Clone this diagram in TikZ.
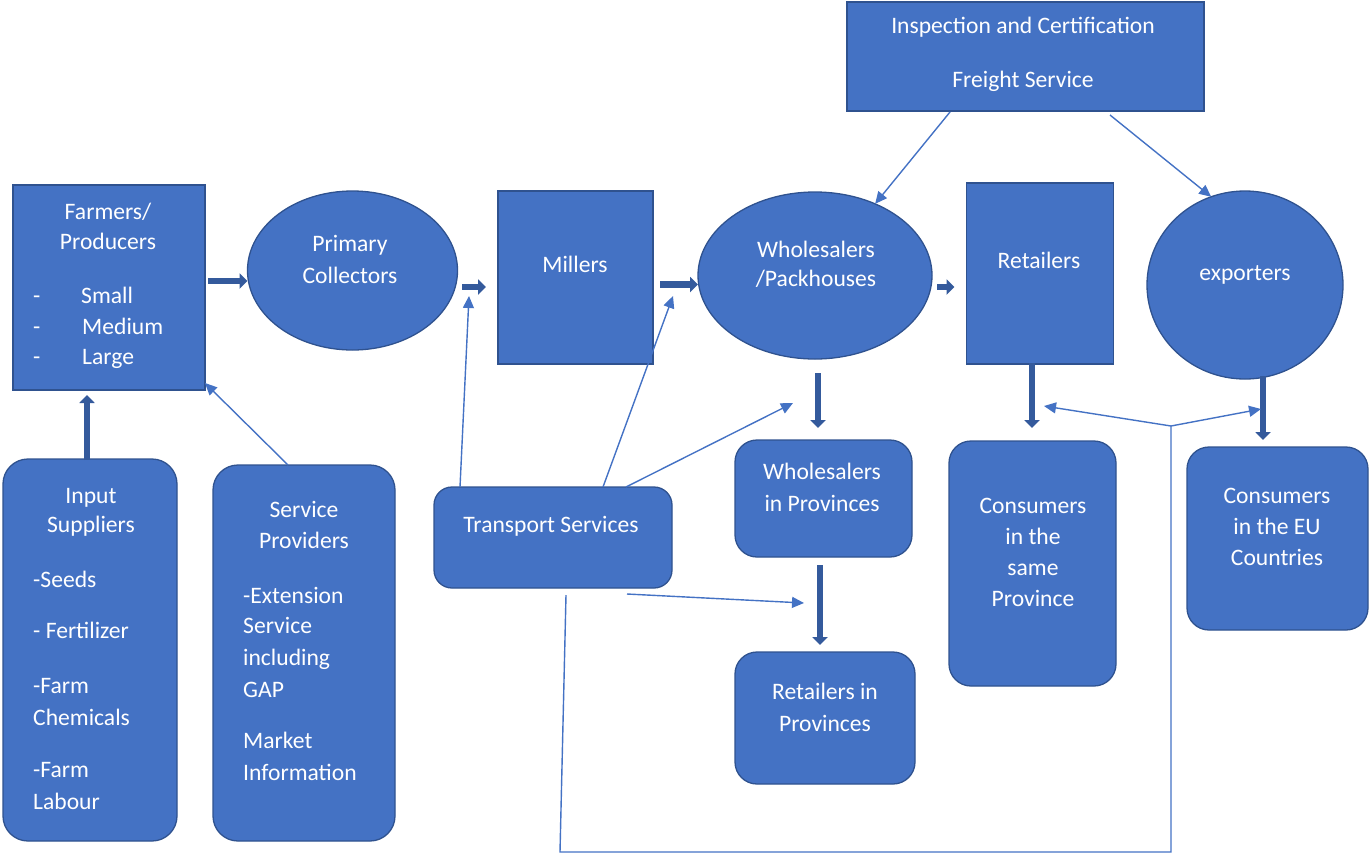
\documentclass[tikz,border=0pt]{standalone}
\usepackage{fontspec}
\setmainfont{Carlito}
\usetikzlibrary{shapes.geometric,arrows.meta,calc}
\definecolor{shapefill}{HTML}{4472C4}
\definecolor{shapeedge}{HTML}{2F528F}
\definecolor{flowc}{HTML}{345A9C}
\definecolor{linkc}{HTML}{4472C4}
\newcommand{\lbfont}{\fontsize{23.6}{30}\selectfont}

\begin{document}
\begin{tikzpicture}[x=1pt,y=-1pt,
  box/.style={draw=shapeedge, fill=shapefill, line width=1.3pt, inner sep=0pt, outer sep=0pt},
  rbox/.style={box, rounded corners=22pt},
  oval/.style={box, ellipse},
  lbl/.style={text=white, font=\lbfont, inner sep=0pt, anchor=base},
  lbll/.style={lbl, anchor=base west},
  flow/.style={line width=6.5pt, draw=flowc, -{Triangle[length=8pt,width=15pt]}},
  link/.style={line width=1.4pt, draw=linkc, -{Triangle[length=12pt,width=11pt]}},
  wire/.style={line width=1.4pt, draw=linkc}]
\useasboundingbox (0,0) rectangle (1370,855);

% ---- main chain ----
\node[box, minimum width=192pt, minimum height=205pt] (farmers) at (109,287.5) {};
\node[oval, minimum width=210pt, minimum height=159pt] (collect) at (352.5,270.5) {};
\node[box, minimum width=155pt, minimum height=173pt] (millers) at (575.5,277.5) {};
\node[oval, minimum width=234pt, minimum height=167pt] (whole) at (815,275.5) {};
\node[box, minimum width=147pt, minimum height=181pt] (retail) at (1040,273.5) {};
\node[oval, minimum width=196pt, minimum height=188pt] (export) at (1245,285) {};
\node[box, minimum width=357pt, minimum height=109pt] (inspect) at (1025.5,56.5) {};

% ---- supporting and downstream boxes ----
\node[rbox, rounded corners=25pt, minimum width=174pt, minimum height=382pt] (input) at (90,650) {};
\node[rbox, rounded corners=25pt, minimum width=182pt, minimum height=376pt] (service) at (304,653) {};
\node[rbox, rounded corners=18pt, minimum width=238pt, minimum height=101pt] (transport) at (553,537.5) {};
\node[rbox, minimum width=177pt, minimum height=117pt] (wprov) at (823.5,498.5) {};
\node[rbox, minimum width=180pt, minimum height=132pt] (rprov) at (825,718) {};
\node[rbox, minimum width=167pt, minimum height=245pt] (consame) at (1032.5,563.5) {};
\node[rbox, minimum width=181pt, minimum height=183pt] (coneu) at (1277.5,538.5) {};

% ---- labels ----
\node[lbl] (tFarm1) at (108,219) {Farmers/};
\node[lbl] (tFarm2) at (108,249) {Producers};
\node[lbll] (tD1) at (33,303) {-};
\node[lbll] (tD2) at (33,334) {-};
\node[lbll] (tD3) at (33,364) {-};
\node[lbll] (tSmall) at (81,303) {Small};
\node[lbll] (tMedium) at (82,334) {Medium};
\node[lbll] (tLarge) at (82,364) {Large};

\node[lbl] (tPrim1) at (350,251) {Primary};
\node[lbl] (tPrim2) at (350,283) {Collectors};
\node[lbl] (tMill) at (575,272) {Millers};
\node[lbl] (tWh1) at (816,257) {Wholesalers};
\node[lbl] (tWh2) at (816,286) {/Packhouses};
\node[lbl] (tRet) at (1039,268) {Retailers};
\node[lbl] (tExp) at (1245,280) {exporters};
\node[lbl] (tIns1) at (1023,33) {Inspection and Certification};
\node[lbl] (tIns2) at (1023,87) {Freight Service};

\node[lbl] (tIn1) at (91,503) {Input};
\node[lbl] (tIn2) at (91,532) {Suppliers};
\node[lbll] (tIn3) at (33,587) {-Seeds};
\node[lbll] (tIn4) at (33,638) {- Fertilizer};
\node[lbll] (tIn5) at (33,693) {-Farm};
\node[lbll] (tIn6) at (33,725) {Chemicals};
\node[lbll] (tIn7) at (33,777) {-Farm};
\node[lbll] (tIn8) at (33,809) {Labour};

\node[lbl] (tSv1) at (304,517) {Service};
\node[lbl] (tSv2) at (304,548) {Providers};
\node[lbll] (tSv3) at (243,603) {-Extension};
\node[lbll] (tSv4) at (243,633) {Service};
\node[lbll] (tSv5) at (243,665) {including};
\node[lbll] (tSv6) at (243,697) {GAP};
\node[lbll] (tSv7) at (243,748) {Market};
\node[lbll] (tSv8) at (243,780) {Information};

\node[lbl] (tTr) at (551,532) {Transport Services};
\node[lbl] (tWp1) at (822,479) {Wholesalers};
\node[lbl] (tWp2) at (822,511) {in Provinces};
\node[lbl] (tRp1) at (825,699) {Retailers in};
\node[lbl] (tRp2) at (825,731) {Provinces};
\node[lbl] (tCs1) at (1033,513) {Consumers};
\node[lbl] (tCs2) at (1033,544) {in the};
\node[lbl] (tCs3) at (1033,575) {same};
\node[lbl] (tCs4) at (1033,606) {Province};
\node[lbl] (tCe1) at (1277,503) {Consumers};
\node[lbl] (tCe2) at (1277,534) {in the EU};
\node[lbl] (tCe3) at (1277,565) {Countries};

% ---- product flow (thick arrows) ----
\draw[flow] ($(farmers.east)+(3,-6.5)$) -- ($(collect.west)+(0,10.5)$);
\draw[flow] ($(collect.east)+(4.5,16.5)$) -- ($(millers.west)+(-12,9.5)$);
\draw[flow] ($(millers.east)+(7,7)$) -- ($(whole.west)+(0,9)$);
\draw[flow] ($(whole.east)+(5,11.5)$) -- ($(retail.west)+(-12,13.5)$);
\draw[flow] ($(input.north)+(-3,1)$) -- ($(farmers.south)+(-22,5)$);
\draw[flow] ($(whole.south)+(3,14)$) -- ($(wprov.north)+(-5.5,-12)$);
\draw[flow] ($(wprov.south)+(-3.5,8)$) -- ($(rprov.north)+(-5,-7)$);
\draw[flow] ($(retail.south)+(-8,-1)$) -- ($(consame.north)+(-0.5,-13)$);
\draw[flow] ($(export.south)+(18,-3)$) -- ($(coneu.north)+(-14.5,-7)$);

% ---- services (thin arrows) ----
\coordinate (pCM) at (469,296);
\coordinate (pMW) at (673,296);
\coordinate (pWW) at (793,403);
\coordinate (pWR) at (804,603);
\coordinate (pJoin) at (1171,426);
\coordinate (pLow1) at (560,852);
\coordinate (pLow2) at (1171,852);
\coordinate (pRC) at (1044,406);
\coordinate (pEC) at (1261,409);

\draw[link] ($(service.north)+(-16,0)$) -- ($(farmers.south east)+(0,-7)$);
\draw[link] ($(transport.north)+(-93,0)$) -- (pCM);
\draw[link] ($(transport.north)+(50,0)$) -- (pMW);
\draw[link] ($(transport.north)+(73,0)$) -- (pWW);
\draw[link] ($(transport.south)+(74,6)$) -- (pWR);
\draw[link] ($(inspect.south)+(-75.5,1)$) -- (whole.50);
\draw[link] ($(inspect.south)+(84.5,4)$) -- (export.111);
\draw[wire] ($(transport.south)+(13,7)$) -- (pLow1) -- (pLow2) -- (pJoin);
\draw[link] (pJoin) -- (pRC);
\draw[link] (pJoin) -- (pEC);
\end{tikzpicture}
\end{document}
